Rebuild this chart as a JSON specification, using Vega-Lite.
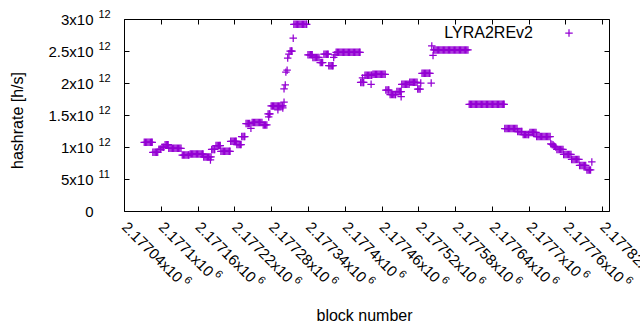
{
  "$schema": "https://vega.github.io/schema/vega-lite/v6.json",
  "width": 485,
  "height": 192,
  "autosize": "none",
  "padding": {"left": 124, "top": 19, "right": 31, "bottom": 119},
  "background": "white",
  "config": {
    "font": "Liberation Sans",
    "view": {"stroke": "black", "strokeWidth": 1},
    "axis": {"grid": false, "domain": false, "tickColor": "black", "tickSize": -5, "labelColor": "black", "titleColor": "black", "labelFont": "Liberation Sans", "titleFont": "Liberation Sans", "labelFontSize": 15, "titleFontSize": 16, "titleFontWeight": "normal", "labelOverlap": false, "labelBound": false, "labelFlush": false}
  },
  "data": {"values": [
    {"block":2177073,"rate":1.073e12},{"block":2177075,"rate":1.073e12},{"block":2177077,"rate":1.073e12},{"block":2177079,"rate":1.073e12},{"block":2177081,"rate":1.073e12},{"block":2177083,"rate":1.073e12},{"block":2177085,"rate":1.073e12},{"block":2177086,"rate":1.073e12},
    {"block":2177087,"rate":0.917e12},{"block":2177089,"rate":0.917e12},{"block":2177091,"rate":0.917e12},{"block":2177093,"rate":0.917e12},{"block":2177095,"rate":0.917e12},
    {"block":2177097,"rate":0.964e12},{"block":2177099,"rate":0.964e12},{"block":2177100,"rate":0.964e12},
    {"block":2177102,"rate":0.997e12},{"block":2177104,"rate":0.997e12},{"block":2177105,"rate":0.997e12},
    {"block":2177107,"rate":1.036e12},{"block":2177109,"rate":1.036e12},{"block":2177111,"rate":1.036e12},{"block":2177112,"rate":1.036e12},
    {"block":2177113,"rate":0.98e12},{"block":2177115,"rate":0.98e12},{"block":2177117,"rate":0.98e12},{"block":2177119,"rate":0.98e12},{"block":2177121,"rate":0.98e12},{"block":2177123,"rate":0.98e12},{"block":2177125,"rate":0.98e12},{"block":2177127,"rate":0.98e12},{"block":2177129,"rate":0.98e12},{"block":2177131,"rate":0.98e12},{"block":2177133,"rate":0.98e12},
    {"block":2177135,"rate":0.875e12},{"block":2177137,"rate":0.875e12},{"block":2177139,"rate":0.875e12},{"block":2177141,"rate":0.875e12},{"block":2177143,"rate":0.875e12},{"block":2177145,"rate":0.875e12},{"block":2177146,"rate":0.875e12},
    {"block":2177148,"rate":0.89e12},{"block":2177150,"rate":0.89e12},{"block":2177152,"rate":0.89e12},{"block":2177154,"rate":0.89e12},{"block":2177156,"rate":0.89e12},{"block":2177158,"rate":0.89e12},{"block":2177160,"rate":0.89e12},{"block":2177162,"rate":0.89e12},{"block":2177164,"rate":0.89e12},{"block":2177166,"rate":0.89e12},{"block":2177168,"rate":0.89e12},{"block":2177169,"rate":0.89e12},
    {"block":2177170,"rate":0.844e12},{"block":2177172,"rate":0.844e12},{"block":2177174,"rate":0.844e12},{"block":2177176,"rate":0.844e12},{"block":2177178,"rate":0.844e12},{"block":2177180,"rate":0.844e12},{"block":2177182,"rate":0.844e12},{"block":2177181,"rate":0.797e12},
    {"block":2177183,"rate":0.961e12},{"block":2177185,"rate":0.961e12},{"block":2177187,"rate":0.961e12},{"block":2177188,"rate":0.961e12},
    {"block":2177190,"rate":1.023e12},{"block":2177192,"rate":1.023e12},{"block":2177194,"rate":1.023e12},{"block":2177196,"rate":1.023e12},{"block":2177197,"rate":1.023e12},
    {"block":2177198,"rate":0.933e12},{"block":2177200,"rate":0.933e12},{"block":2177202,"rate":0.933e12},{"block":2177204,"rate":0.933e12},{"block":2177206,"rate":0.933e12},{"block":2177208,"rate":0.933e12},{"block":2177210,"rate":0.933e12},{"block":2177212,"rate":0.933e12},{"block":2177213,"rate":0.933e12},
    {"block":2177214,"rate":1.089e12},{"block":2177216,"rate":1.089e12},{"block":2177218,"rate":1.089e12},{"block":2177220,"rate":1.089e12},{"block":2177222,"rate":1.089e12},{"block":2177223,"rate":1.089e12},
    {"block":2177224,"rate":1.039e12},{"block":2177226,"rate":1.039e12},{"block":2177228,"rate":1.039e12},{"block":2177230,"rate":1.039e12},{"block":2177231,"rate":1.039e12},
    {"block":2177232,"rate":1.164e12},{"block":2177234,"rate":1.164e12},{"block":2177236,"rate":1.164e12},{"block":2177237,"rate":1.164e12},
    {"block":2177239,"rate":1.367e12},{"block":2177241,"rate":1.367e12},{"block":2177243,"rate":1.367e12},{"block":2177245,"rate":1.367e12},
    {"block":2177247,"rate":1.292e12},
    {"block":2177249,"rate":1.383e12},{"block":2177251,"rate":1.383e12},{"block":2177253,"rate":1.383e12},{"block":2177255,"rate":1.383e12},{"block":2177257,"rate":1.383e12},{"block":2177259,"rate":1.383e12},{"block":2177261,"rate":1.383e12},{"block":2177263,"rate":1.383e12},{"block":2177265,"rate":1.383e12},
    {"block":2177267,"rate":1.344e12},{"block":2177269,"rate":1.344e12},{"block":2177271,"rate":1.344e12},{"block":2177273,"rate":1.344e12},
    {"block":2177275,"rate":1.516e12},{"block":2177277,"rate":1.516e12},{"block":2177278,"rate":1.516e12},{"block":2177276,"rate":1.47e12},
    {"block":2177280,"rate":1.641e12},{"block":2177282,"rate":1.641e12},{"block":2177284,"rate":1.641e12},{"block":2177286,"rate":1.641e12},{"block":2177288,"rate":1.641e12},{"block":2177290,"rate":1.641e12},{"block":2177292,"rate":1.641e12},{"block":2177294,"rate":1.641e12},{"block":2177296,"rate":1.641e12},{"block":2177298,"rate":1.641e12},{"block":2177299,"rate":1.641e12},
    {"block":2177291,"rate":1.58e12},{"block":2177299,"rate":1.61e12},{"block":2177301,"rate":1.70e12},
    {"block":2177301,"rate":1.91e12},{"block":2177303,"rate":1.97e12},
    {"block":2177304,"rate":2.17e12},{"block":2177306,"rate":2.20e12},
    {"block":2177307,"rate":2.39e12},{"block":2177309,"rate":2.45e12},
    {"block":2177311,"rate":2.5e12},{"block":2177313,"rate":2.5e12},{"block":2177314,"rate":2.5e12},
    {"block":2177316,"rate":2.70e12},
    {"block":2177317,"rate":2.917e12},{"block":2177319,"rate":2.917e12},{"block":2177321,"rate":2.917e12},{"block":2177323,"rate":2.917e12},{"block":2177325,"rate":2.917e12},{"block":2177327,"rate":2.917e12},{"block":2177329,"rate":2.917e12},{"block":2177331,"rate":2.917e12},{"block":2177333,"rate":2.917e12},{"block":2177335,"rate":2.917e12},{"block":2177337,"rate":2.917e12},{"block":2177338,"rate":2.917e12},
    {"block":2177340,"rate":2.44e12},{"block":2177342,"rate":2.44e12},{"block":2177344,"rate":2.44e12},{"block":2177346,"rate":2.44e12},{"block":2177347,"rate":2.44e12},
    {"block":2177348,"rate":2.40e12},{"block":2177350,"rate":2.40e12},{"block":2177352,"rate":2.40e12},{"block":2177354,"rate":2.40e12},{"block":2177356,"rate":2.40e12},{"block":2177358,"rate":2.40e12},
    {"block":2177360,"rate":2.32e12},{"block":2177362,"rate":2.32e12},{"block":2177364,"rate":2.32e12},
    {"block":2177366,"rate":2.45e12},{"block":2177368,"rate":2.45e12},{"block":2177370,"rate":2.45e12},{"block":2177372,"rate":2.45e12},{"block":2177373,"rate":2.45e12},
    {"block":2177374,"rate":2.27e12},{"block":2177376,"rate":2.27e12},{"block":2177378,"rate":2.27e12},{"block":2177380,"rate":2.27e12},{"block":2177381,"rate":2.27e12},
    {"block":2177382,"rate":2.40e12},{"block":2177384,"rate":2.44e12},
    {"block":2177386,"rate":2.48e12},{"block":2177388,"rate":2.48e12},{"block":2177390,"rate":2.48e12},{"block":2177392,"rate":2.48e12},{"block":2177394,"rate":2.48e12},{"block":2177396,"rate":2.48e12},{"block":2177398,"rate":2.48e12},{"block":2177400,"rate":2.48e12},{"block":2177402,"rate":2.48e12},{"block":2177404,"rate":2.48e12},{"block":2177406,"rate":2.48e12},{"block":2177408,"rate":2.48e12},{"block":2177410,"rate":2.48e12},{"block":2177412,"rate":2.48e12},{"block":2177414,"rate":2.48e12},{"block":2177416,"rate":2.48e12},{"block":2177418,"rate":2.48e12},{"block":2177420,"rate":2.48e12},{"block":2177422,"rate":2.48e12},{"block":2177424,"rate":2.48e12},{"block":2177425,"rate":2.48e12},
    {"block":2177426,"rate":2.008e12},{"block":2177428,"rate":2.008e12},{"block":2177430,"rate":2.008e12},{"block":2177431,"rate":2.008e12},{"block":2177429,"rate":2.08e12},
    {"block":2177433,"rate":2.12e12},{"block":2177435,"rate":2.12e12},{"block":2177437,"rate":2.12e12},{"block":2177439,"rate":2.12e12},{"block":2177441,"rate":2.12e12},{"block":2177443,"rate":2.12e12},{"block":2177444,"rate":2.12e12},
    {"block":2177443,"rate":1.98e12},
    {"block":2177446,"rate":2.136e12},{"block":2177448,"rate":2.136e12},{"block":2177450,"rate":2.136e12},{"block":2177452,"rate":2.136e12},{"block":2177454,"rate":2.136e12},{"block":2177456,"rate":2.136e12},{"block":2177458,"rate":2.136e12},{"block":2177460,"rate":2.136e12},{"block":2177462,"rate":2.136e12},{"block":2177464,"rate":2.136e12},{"block":2177466,"rate":2.136e12},
    {"block":2177467,"rate":1.89e12},{"block":2177469,"rate":1.89e12},{"block":2177471,"rate":1.89e12},{"block":2177472,"rate":1.89e12},
    {"block":2177474,"rate":1.82e12},{"block":2177476,"rate":1.82e12},{"block":2177478,"rate":1.82e12},{"block":2177480,"rate":1.82e12},{"block":2177482,"rate":1.82e12},{"block":2177483,"rate":1.82e12},
    {"block":2177485,"rate":1.867e12},{"block":2177487,"rate":1.867e12},{"block":2177489,"rate":1.867e12},{"block":2177491,"rate":1.867e12},{"block":2177492,"rate":1.867e12},
    {"block":2177492,"rate":1.786e12},
    {"block":2177493,"rate":1.98e12},{"block":2177495,"rate":1.98e12},{"block":2177497,"rate":1.98e12},{"block":2177499,"rate":1.98e12},{"block":2177501,"rate":1.98e12},{"block":2177503,"rate":1.98e12},{"block":2177505,"rate":1.98e12},
    {"block":2177506,"rate":2.01e12},{"block":2177508,"rate":2.01e12},{"block":2177510,"rate":2.01e12},{"block":2177512,"rate":2.01e12},{"block":2177514,"rate":2.01e12},{"block":2177516,"rate":2.01e12},{"block":2177518,"rate":2.01e12},
    {"block":2177519,"rate":1.906e12},{"block":2177521,"rate":1.906e12},{"block":2177523,"rate":1.906e12},
    {"block":2177524,"rate":2.0e12},
    {"block":2177526,"rate":2.152e12},{"block":2177528,"rate":2.152e12},{"block":2177530,"rate":2.152e12},{"block":2177532,"rate":2.152e12},{"block":2177534,"rate":2.152e12},{"block":2177536,"rate":2.152e12},{"block":2177538,"rate":2.152e12},{"block":2177539,"rate":2.152e12},
    {"block":2177541,"rate":2.0e12},{"block":2177542,"rate":2.58e12},{"block":2177544,"rate":2.43e12},
    {"block":2177545,"rate":2.516e12},{"block":2177547,"rate":2.516e12},{"block":2177549,"rate":2.516e12},{"block":2177551,"rate":2.516e12},{"block":2177553,"rate":2.516e12},{"block":2177555,"rate":2.516e12},{"block":2177557,"rate":2.516e12},{"block":2177559,"rate":2.516e12},{"block":2177561,"rate":2.516e12},{"block":2177563,"rate":2.516e12},{"block":2177565,"rate":2.516e12},{"block":2177567,"rate":2.516e12},{"block":2177569,"rate":2.516e12},{"block":2177571,"rate":2.516e12},{"block":2177573,"rate":2.516e12},{"block":2177575,"rate":2.516e12},{"block":2177577,"rate":2.516e12},{"block":2177579,"rate":2.516e12},{"block":2177581,"rate":2.516e12},{"block":2177583,"rate":2.516e12},{"block":2177585,"rate":2.516e12},{"block":2177587,"rate":2.516e12},{"block":2177589,"rate":2.516e12},{"block":2177591,"rate":2.516e12},{"block":2177593,"rate":2.516e12},{"block":2177595,"rate":2.516e12},{"block":2177597,"rate":2.516e12},{"block":2177599,"rate":2.516e12},{"block":2177601,"rate":2.516e12},
    {"block":2177603,"rate":1.667e12},{"block":2177605,"rate":1.667e12},{"block":2177607,"rate":1.667e12},{"block":2177609,"rate":1.667e12},{"block":2177611,"rate":1.667e12},{"block":2177613,"rate":1.667e12},{"block":2177615,"rate":1.667e12},{"block":2177617,"rate":1.667e12},{"block":2177619,"rate":1.667e12},{"block":2177621,"rate":1.667e12},{"block":2177623,"rate":1.667e12},{"block":2177625,"rate":1.667e12},{"block":2177627,"rate":1.667e12},{"block":2177629,"rate":1.667e12},{"block":2177631,"rate":1.667e12},{"block":2177633,"rate":1.667e12},{"block":2177635,"rate":1.667e12},{"block":2177637,"rate":1.667e12},{"block":2177639,"rate":1.667e12},{"block":2177641,"rate":1.667e12},{"block":2177643,"rate":1.667e12},{"block":2177645,"rate":1.667e12},{"block":2177647,"rate":1.667e12},{"block":2177649,"rate":1.667e12},{"block":2177651,"rate":1.667e12},{"block":2177653,"rate":1.667e12},{"block":2177655,"rate":1.667e12},{"block":2177657,"rate":1.667e12},{"block":2177659,"rate":1.667e12},{"block":2177660,"rate":1.667e12},
    {"block":2177661,"rate":1.289e12},{"block":2177663,"rate":1.289e12},{"block":2177665,"rate":1.289e12},{"block":2177667,"rate":1.289e12},{"block":2177669,"rate":1.289e12},{"block":2177671,"rate":1.289e12},{"block":2177673,"rate":1.289e12},{"block":2177675,"rate":1.289e12},{"block":2177677,"rate":1.289e12},{"block":2177679,"rate":1.289e12},{"block":2177681,"rate":1.289e12},
    {"block":2177682,"rate":1.242e12},{"block":2177684,"rate":1.242e12},{"block":2177686,"rate":1.242e12},{"block":2177688,"rate":1.242e12},{"block":2177689,"rate":1.242e12},
    {"block":2177691,"rate":1.195e12},{"block":2177693,"rate":1.195e12},{"block":2177695,"rate":1.195e12},{"block":2177697,"rate":1.195e12},{"block":2177699,"rate":1.195e12},{"block":2177700,"rate":1.195e12},
    {"block":2177702,"rate":1.227e12},{"block":2177704,"rate":1.227e12},{"block":2177706,"rate":1.227e12},{"block":2177708,"rate":1.227e12},{"block":2177710,"rate":1.227e12},{"block":2177712,"rate":1.227e12},
    {"block":2177713,"rate":1.164e12},{"block":2177715,"rate":1.164e12},{"block":2177717,"rate":1.164e12},{"block":2177719,"rate":1.164e12},{"block":2177721,"rate":1.164e12},{"block":2177723,"rate":1.164e12},{"block":2177725,"rate":1.164e12},{"block":2177727,"rate":1.164e12},{"block":2177729,"rate":1.164e12},{"block":2177731,"rate":1.164e12},{"block":2177733,"rate":1.164e12},{"block":2177735,"rate":1.164e12},
    {"block":2177736,"rate":1.05e12},{"block":2177738,"rate":1.04e12},{"block":2177740,"rate":1.03e12},{"block":2177742,"rate":1.01e12},{"block":2177744,"rate":1.0e12},
    {"block":2177746,"rate":0.961e12},{"block":2177748,"rate":0.961e12},{"block":2177750,"rate":0.961e12},{"block":2177752,"rate":0.961e12},{"block":2177754,"rate":0.961e12},{"block":2177756,"rate":0.961e12},
    {"block":2177757,"rate":0.883e12},{"block":2177759,"rate":0.883e12},{"block":2177761,"rate":0.883e12},{"block":2177763,"rate":0.883e12},{"block":2177765,"rate":0.883e12},{"block":2177767,"rate":0.883e12},{"block":2177769,"rate":0.883e12},
    {"block":2177770,"rate":0.805e12},{"block":2177772,"rate":0.805e12},{"block":2177774,"rate":0.805e12},{"block":2177776,"rate":0.805e12},{"block":2177778,"rate":0.805e12},{"block":2177780,"rate":0.805e12},{"block":2177782,"rate":0.805e12},
    {"block":2177783,"rate":0.711e12},{"block":2177785,"rate":0.711e12},{"block":2177787,"rate":0.711e12},{"block":2177789,"rate":0.711e12},{"block":2177791,"rate":0.711e12},{"block":2177793,"rate":0.711e12},
    {"block":2177795,"rate":0.641e12},{"block":2177797,"rate":0.641e12},{"block":2177799,"rate":0.641e12},{"block":2177801,"rate":0.641e12},
    {"block":2177803,"rate":0.766e12}
  ]},
  "layer": [
    {
      "mark": {"type": "point", "shape": "M-1,0L1,0M0,-1L0,1", "filled": false, "size": 56, "strokeWidth": 1.25, "opacity": 1},
      "encoding": {
        "x": {"field": "block", "type": "quantitative", "scale": {"domain": [2177040, 2177831], "nice": false, "zero": false},
          "axis": {"orient": "bottom", "values": [2177040,2177100,2177160,2177220,2177280,2177340,2177400,2177460,2177520,2177580,2177640,2177700,2177760,2177820],
            "labelExpr": "format(datum.value/1e6, '.6~g') + 'x10'", "labelAngle": 45, "labelAlign": "left", "labelBaseline": "middle", "labelPadding": 18,
            "title": "block number", "titleX": 240, "titleY": 104, "titleBaseline": "middle", "titleAlign": "center"}},
        "y": {"field": "rate", "type": "quantitative", "scale": {"domain": [0, 3e12], "nice": false},
          "axis": {"orient": "left", "values": [0, 5e11, 1e12, 1.5e12, 2e12, 2.5e12, 3e12],
            "labelExpr": "datum.value == 0 ? '0' : (datum.value < 1e12 ? format(datum.value/1e11, '~g') + 'x10' : format(datum.value/1e12, '~g') + 'x10')",
            "labelPadding": 36, "labelBaseline": "middle", "labelAlign": "right",
            "encoding": {"labels": {"dx": {"signal": "datum.value == 0 ? 17 : 0"}}},
            "title": "hashrate [h/s]", "titleX": -107, "titleY": 101, "titleAngle": -90, "titleBaseline": "middle", "titleAlign": "center"}},
        "color": {"datum": "LYRA2REv2", "type": "nominal", "scale": {"range": ["#9400d3"]},
          "legend": {"orient": "none", "legendX": 437, "legendY": 6, "title": null, "padding": 0, "labelAlign": "right", "labelOffset": -44, "labelFontSize": 16, "labelFont": "Liberation Sans", "labelColor": "black", "symbolType": "M-1,0L1,0M0,-1L0,1", "symbolSize": 56, "symbolStrokeWidth": 1.25}}
      }
    },
    {
      "mark": {"type": "point", "opacity": 0},
      "encoding": {
        "x": {"field": "block", "type": "quantitative",
          "axis": {"orient": "top", "values": [2177040,2177100,2177160,2177220,2177280,2177340,2177400,2177460,2177520,2177580,2177640,2177700,2177760,2177820], "labels": false, "title": null}},
        "y": {"field": "rate", "type": "quantitative",
          "axis": {"orient": "right", "values": [0, 5e11, 1e12, 1.5e12, 2e12, 2.5e12, 3e12], "labels": false, "title": null}}
      }
    },
    {
      "mark": {"type": "point", "opacity": 0},
      "encoding": {
        "x": {"field": "block", "type": "quantitative",
          "axis": {"orient": "bottom", "values": [2177040,2177100,2177160,2177220,2177280,2177340,2177400,2177460,2177520,2177580,2177640,2177700,2177760,2177820], "ticks": false, "title": null,
            "labelExpr": "length(format(datum.value/1e6, '.6~g')) == 7 ? '6' : ''", "labelFontSize": 11, "labelAngle": 45, "labelAlign": "left", "labelBaseline": "middle", "labelPadding": 67, "labelOffset": 61}},
        "y": {"field": "rate", "type": "quantitative",
          "axis": {"orient": "left", "values": [0, 5e11, 1e12, 1.5e12, 2e12, 2.5e12, 3e12], "ticks": false, "title": null,
            "labelExpr": "datum.value == 0 ? '' : (datum.value < 1e12 ? '11' : '12')", "labelFontSize": 11, "labelAlign": "left", "labelBaseline": "middle", "labelPadding": 26, "labelOffset": -5}}
      }
    },
    {
      "mark": {"type": "point", "opacity": 0},
      "encoding": {
        "x": {"field": "block", "type": "quantitative",
          "axis": {"orient": "bottom", "values": [2177040,2177100,2177160,2177220,2177280,2177340,2177400,2177460,2177520,2177580,2177640,2177700,2177760,2177820], "ticks": false, "title": null,
            "labelExpr": "length(format(datum.value/1e6, '.6~g')) == 6 ? '6' : ''", "labelFontSize": 11, "labelAngle": 45, "labelAlign": "left", "labelBaseline": "middle", "labelPadding": 61, "labelOffset": 55}},
        "y": {"field": "rate", "type": "quantitative", "axis": null}
      }
    }
  ],
  "resolve": {"axis": {"x": "independent", "y": "independent"}}
}
